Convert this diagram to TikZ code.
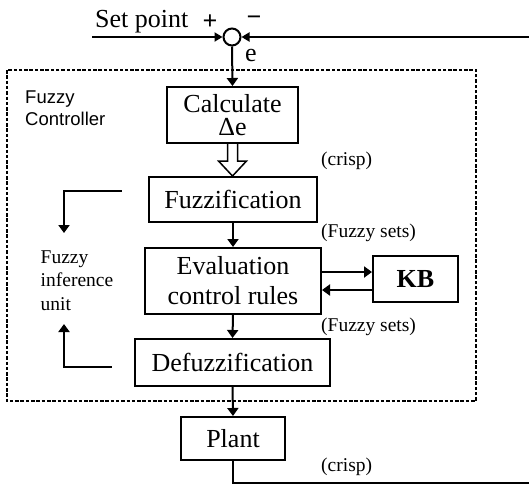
\documentclass[tikz,border=0pt]{standalone}
\usepackage{fontspec}
\setmainfont{Liberation Serif}
\newfontfamily\arialfont{Liberation Sans}
\usetikzlibrary{arrows.meta,calc}
\begin{document}
\begin{tikzpicture}[x=1pt,y=-1pt,
  box/.style={draw,line width=2pt,rectangle,inner sep=0pt,align=center,font=\fontsize{26}{30}\selectfont},
  conn/.style={line width=2pt,-{Triangle[length=8pt,width=11pt]}},
  sumarrow/.style={line width=2pt,-{Triangle[length=8pt,width=9pt]}},
  plain/.style={line width=2pt},
  small/.style={font=\fontsize{19.5}{23.5}\selectfont,inner sep=0pt},
  big/.style={font=\fontsize{26}{30}\selectfont,inner sep=0pt}]
\useasboundingbox (0,0) rectangle (529,485);
% dashed controller frame
\draw[line width=2.5pt,dash pattern=on 3.5pt off 1.8pt] (7,70) rectangle (476,401);
% summing junction
\node[draw,circle,line width=2pt,minimum size=17pt,inner sep=0pt] (sum) at (232,37) {};
\coordinate (sp) at (92,37);
\coordinate (tr) at (529,37);
\coordinate (br) at (529,483);
\node[big,anchor=base west] (setpoint) at (95,27) {Set point};
\node[big,anchor=center] (plus) at (210,22) {\textbf{+}};
\node[big,anchor=center] (minus) at (254,21) {\textbf{−}};
\node[big,anchor=center] (elabel) at (251,55) {e};
% boxes
\node[box,minimum width=131pt,minimum height=56pt,font=\fontsize{26}{23.5}\selectfont] (calc) at (232.5,115) {Calculate\\Δe};
\node[box,minimum width=168pt,minimum height=45pt] (fuzz) at (233,199.5) {Fuzzification};
\node[box,minimum width=176pt,minimum height=66pt] (eval) at (233,281) {Evaluation\\control rules};
\node[box,minimum width=85pt,minimum height=46pt] (kb) at (415.5,279) {\textbf{KB}};
\node[box,minimum width=195pt,minimum height=47pt] (defuzz) at (232.5,362.5) {Defuzzification};
\node[box,minimum width=104pt,minimum height=43pt] (plant) at (233,438.5) {Plant};
% labels
\node[small,anchor=west] (crisp1) at (321,161) {(crisp)};
\node[small,anchor=west] (fs1) at (321,233) {(Fuzzy sets)};
\node[small,anchor=west] (fs2) at (321,327) {(Fuzzy sets)};
\node[small,anchor=west] (crisp2) at (321,467) {(crisp)};
\node[inner sep=0pt,anchor=base west,align=left,font=\arialfont\fontsize{18.5}{22}\selectfont] (fc) at (25,125) {Fuzzy\\Controller};
\node[small,anchor=base west,align=left] (fiu) at (40.5,310) {Fuzzy\\inference\\unit};
% connectors
\draw[sumarrow] (sp) -- (sum.west);
\draw[sumarrow] (tr) -- (sum.east);
\draw[conn] (sum.south) -- (calc.north);
\draw[line width=1.5pt,fill=white] (calc.south) ++(-5,0) -- ++(0,17) -- ++(-9,0) -- ++(14,15) -- ++(14,-15) -- ++(-9,0) -- ++(0,-17);
\draw[conn] (fuzz.south) -- (eval.north);
\draw[conn] (eval.east |- 0,272) coordinate (e1) -- (kb.west |- e1);
\draw[conn] (kb.west |- 0,290) coordinate (k1) -- (eval.east |- k1);
\draw[conn] (eval.south) -- (defuzz.north);
\draw[conn] (defuzz.south) -- (plant.north);
\draw[plain] (plant.south) |- (br);
% inference unit brackets
\coordinate (lt1) at (121.5,191);
\coordinate (lt2) at (64,233);
\coordinate (lb1) at (111.5,367);
\coordinate (lb2) at (64,324);
\draw[conn] (lt1) -| (lt2);
\draw[conn] (lb1) -| (lb2);
\end{tikzpicture}
\end{document}
